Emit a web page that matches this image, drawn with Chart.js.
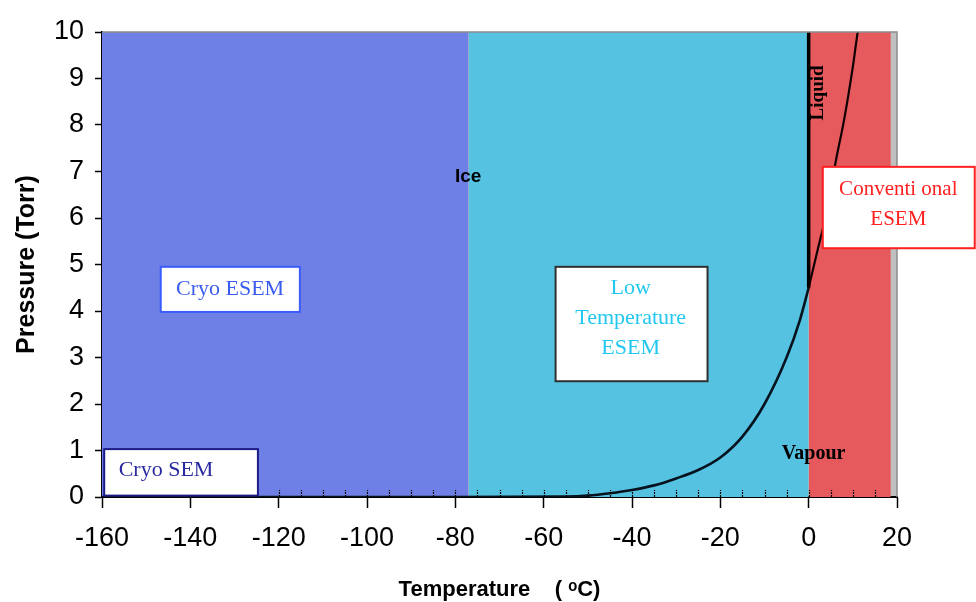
<!DOCTYPE html>
<html>
<head>
<meta charset="utf-8">
<script src="https://cdn.jsdelivr.net/npm/chart.js@4/dist/chart.umd.min.js"></script>
<style>
  html, body { margin: 0; padding: 0; background: #fff; }
  #wrap { width: 976px; height: 602px; }
</style>
</head>
<body>
<div id="wrap"><canvas id="phaseChart" width="976" height="602"></canvas></div>
<script>
// temperature (degC) and pressure (Torr)
const iceTemps = [-160, -120, -80, -55, -50, -45, -40, -35, -30, -25, -20, -15, -10, -5, -2, 0];
const icePress = [0, 0, 0, 0.01, 0.03, 0.08, 0.15, 0.25, 0.4, 0.58, 0.85, 1.3, 2.0, 3.0, 3.8, 4.5];
const liquidTemps = [0, 2, 4, 6.3, 8, 10, 11.1, 12];
const liquidPress = [4.5, 5.3, 6.1, 7.3, 8.1, 9.25, 10, 10.5];
const meltTemps = [0, 0];
const meltPress = [4.5, 10];

// regions [from, to] in degC
const cryoRange = [-160, -77];
const lowTempRange = [-77, 0];
const conventionalRange = [0, 18.6];

const xTicks = [-160, -140, -120, -100, -80, -60, -40, -20, 0, 20];
const yTicks = [0, 1, 2, 3, 4, 5, 6, 7, 8, 9, 10];

const toPoints = (xs, ys) => xs.map((x, i) => ({ x: x, y: ys[i] }));
const band = (r) => [{ x: r[0], y: 10 }, { x: r[1], y: 10 }];

// boxes and labels, placed in data units
const boxes = [
	{ x0: -159.5, x1: -124.7, y0: 0.03, y1: 1.03, border: '#1c1c84', color: '#2a2aa0', size: 22, lines: ['Cryo SEM'], tx: -145.5, ty: 0.58 },
	{ x0: -146.7, x1: -115.2, y0: 3.98, y1: 4.95, border: '#3a5cff', color: '#3a5cf0', size: 22, lines: ['Cryo ESEM'], tx: -131, ty: 4.47 },
	{ x0: -57.3, x1: -22.9, y0: 2.49, y1: 4.95, border: '#303030', color: '#22c8f0', size: 22, lines: ['Low', 'Temperature', 'ESEM'], tx: -40.3, ty: 4.48 },
	{ x0: 3.2, x1: 37.6, y0: 5.35, y1: 7.1, border: '#ff2020', color: '#ff2020', size: 21, lines: ['Conventi onal', 'ESEM'], tx: 20.3, ty: 6.62 }
];
const labels = [
	{ text: 'Ice', x: -77.1, y: 6.88, font: 'bold 19px "Liberation Sans", Arial, sans-serif', rot: 0 },
	{ text: 'Liquid', x: 2.1, y: 8.69, font: 'bold 19px "Liberation Serif", "Times New Roman", serif', rot: -Math.PI / 2 },
	{ text: 'Vapour', x: 1.1, y: 0.92, font: 'bold 20px "Liberation Serif", "Times New Roman", serif', rot: 0 }
];

const plotBack = {
	id: 'plotBack',
	beforeDraw(chart) {
		const a = chart.chartArea;
		const ctx = chart.ctx;
		ctx.save();
		ctx.fillStyle = '#c0c0c0';
		ctx.fillRect(a.left, a.top, a.right - a.left, a.bottom - a.top);
		ctx.restore();
	}
};

const extras = {
	id: 'extras',
	afterDatasetsDraw(chart) {
		const ctx = chart.ctx;
		const xs = chart.scales.x;
		const ys = chart.scales.y;
		const a = chart.chartArea;
		ctx.save();

		// frame top and right
		ctx.strokeStyle = '#8c8c8c';
		ctx.lineWidth = 1.5;
		ctx.beginPath();
		ctx.moveTo(a.left, a.top);
		ctx.lineTo(a.right, a.top);
		ctx.lineTo(a.right, a.bottom);
		ctx.stroke();

		// small inside ticks on the temperature axis
		ctx.strokeStyle = '#000';
		ctx.lineWidth = 1.2;
		ctx.setLineDash([2, 1]);
		for (let v = -155; v < 20; v += 5) {
			const px = Math.round(xs.getPixelForValue(v)) + 0.5;
			ctx.beginPath();
			ctx.moveTo(px, a.bottom);
			ctx.lineTo(px, a.bottom - 7);
			ctx.stroke();
		}
		ctx.setLineDash([]);

		// boxes
		boxes.forEach((b) => {
			const l = xs.getPixelForValue(b.x0);
			const r = xs.getPixelForValue(b.x1);
			const t = ys.getPixelForValue(b.y1);
			const btm = ys.getPixelForValue(b.y0);
			ctx.fillStyle = '#fff';
			ctx.fillRect(l, t, r - l, btm - t);
			ctx.strokeStyle = b.border;
			ctx.lineWidth = 2;
			ctx.strokeRect(l, t, r - l, btm - t);
			ctx.fillStyle = b.color;
			ctx.font = b.size + 'px "Liberation Serif", "Times New Roman", serif';
			ctx.textAlign = 'center';
			ctx.textBaseline = 'middle';
			const cx = xs.getPixelForValue(b.tx);
			const cy = ys.getPixelForValue(b.ty);
			b.lines.forEach((line, i) => {
				ctx.fillText(line, cx, cy + i * 30);
			});
		});

		// free labels
		labels.forEach((lb) => {
			ctx.save();
			ctx.translate(xs.getPixelForValue(lb.x), ys.getPixelForValue(lb.y));
			ctx.rotate(lb.rot);
			ctx.font = lb.font;
			ctx.fillStyle = '#000';
			ctx.textAlign = 'center';
			ctx.textBaseline = 'middle';
			ctx.fillText(lb.text, 0, 0);
			ctx.restore();
		});

		ctx.restore();
	}
};

const tickFont = { family: '"Liberation Sans", Arial, sans-serif', size: 27 };
const titleFont = { family: '"Liberation Sans", Arial, sans-serif', size: 22, weight: 'bold', lineHeight: 1.1 };

const ctx = document.getElementById('phaseChart');

const chart = new Chart(ctx, {
	type: 'line',
	data: {
		datasets: [
			{
				data: toPoints(iceTemps, icePress),
				borderColor: '#06121e',
				borderWidth: 2.6,
				pointRadius: 0,
				cubicInterpolationMode: 'monotone',
				order: 1
			},
			{
				data: toPoints(liquidTemps, liquidPress),
				borderColor: '#120000',
				borderWidth: 2.2,
				pointRadius: 0,
				cubicInterpolationMode: 'monotone',
				order: 1
			},
			{
				data: toPoints(meltTemps, meltPress),
				borderColor: '#000',
				borderWidth: 3.5,
				pointRadius: 0,
				order: 1
			},
			{
				data: band(cryoRange),
				borderWidth: 0,
				pointRadius: 0,
				backgroundColor: '#6e80e6',
				fill: 'origin',
				order: 5
			},
			{
				data: band(lowTempRange),
				borderWidth: 0,
				pointRadius: 0,
				backgroundColor: '#55c2e2',
				fill: 'origin',
				order: 5
			},
			{
				data: band(conventionalRange),
				borderWidth: 0,
				pointRadius: 0,
				backgroundColor: '#e65a5e',
				fill: 'origin',
				order: 5
			}
		]
	},
	options: {
		responsive: false,
		animation: false,
		layout: { padding: { top: 32, right: 79, left: 0, bottom: 0 } },
		plugins: {
			legend: { display: false },
			tooltip: { enabled: false }
		},
		scales: {
			x: {
				type: 'linear',
				min: -160,
				max: 20,
				afterBuildTicks: (scale) => { scale.ticks = xTicks.map((v) => ({ value: v })); },
				afterFit: (scale) => { scale.height = 105; },
				ticks: { font: tickFont, color: '#000', padding: 14, maxRotation: 0 },
				grid: { drawOnChartArea: false, drawTicks: true, tickLength: 11, color: '#000', tickWidth: 1.5 },
				border: { display: true, color: '#000', width: 2 },
				title: { display: true, text: 'Temperature    ( \u1D52C)', font: titleFont, color: '#000', padding: { top: 0, bottom: 0 } }
			},
			y: {
				type: 'linear',
				min: 0,
				max: 10,
				afterBuildTicks: (scale) => { scale.ticks = yTicks.map((v) => ({ value: v })); },
				afterFit: (scale) => { scale.width = 102; },
				ticks: { font: tickFont, color: '#000', padding: 11 },
				grid: { drawOnChartArea: false, drawTicks: true, tickLength: 7, color: '#000', tickWidth: 1.5 },
				border: { display: true, color: '#000', width: 2 },
				title: { display: true, text: 'Pressure (Torr)', font: { family: '"Liberation Sans", Arial, sans-serif', size: 25, weight: 'bold', lineHeight: 1.1 }, color: '#000', padding: { top: 13, bottom: 0 } }
			}
		}
	},
	plugins: [plotBack, extras]
});
</script>
</body>
</html>
